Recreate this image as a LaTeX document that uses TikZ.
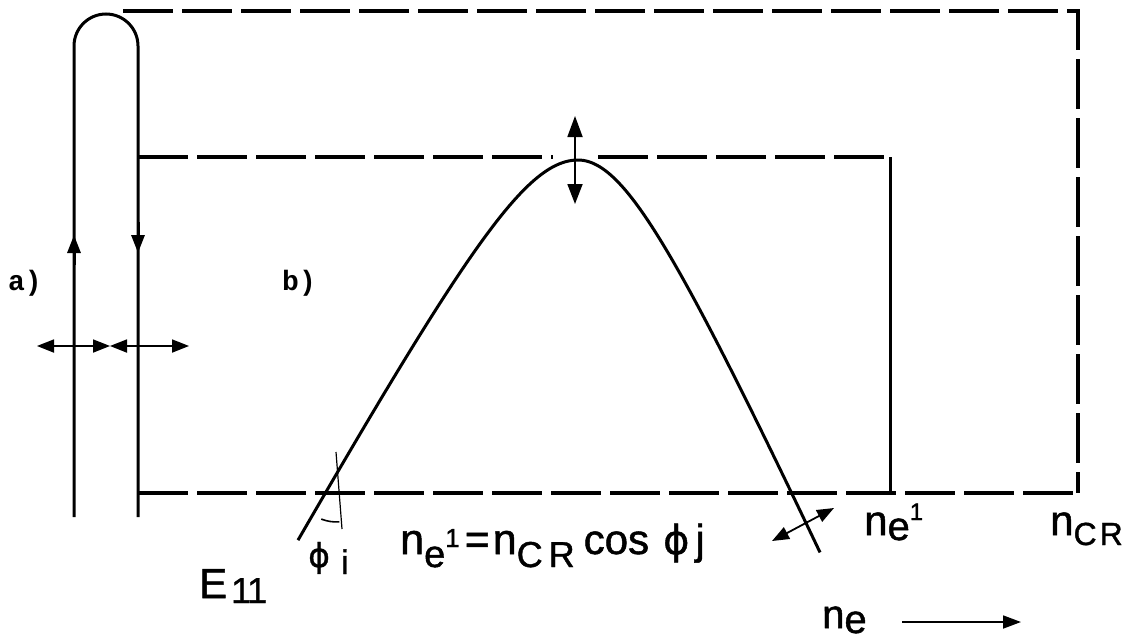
\documentclass[tikz,border=0pt]{standalone}
\usepackage{fontspec}
\setmainfont{Liberation Sans}[FakeBold=1.2]
\setmonofont{Liberation Mono}
\newfontfamily\phifont{DejaVu Sans}[FakeBold=1.0]
\usetikzlibrary{arrows.meta,calc}
\newcommand\FS[1]{\fontsize{#1}{#1}\selectfont}
\tikzset{
  wire/.style={line width=3pt},
  dsh/.style={line width=3.3pt, dash pattern=on 50pt off 9pt},
  bigtip/.style={-{Triangle[length=18pt,width=13pt]}},
  dbl/.style={line width=1.8pt, {Triangle[length=17pt,width=13pt]}-{Triangle[length=17pt,width=13pt]}},
  lbl/.style={inner sep=0pt, anchor=base west},
}
\begin{document}
\begin{tikzpicture}[x=1pt,y=-1pt]
\useasboundingbox (0,0) rectangle (1134,640);
% left loop (waveguide)
\coordinate (L0) at (74,517);
\coordinate (L1) at (74,46);
\coordinate (R0) at (138,517);
\draw[wire] (L0) -- (L1) arc[start angle=180,end angle=360,radius=32] -- (R0);
\coordinate (ua) at (74,265); \coordinate (ub) at (74,235);
\draw[wire,bigtip] (ua) -- (ub);
\coordinate (da) at (138,222); \coordinate (db) at (138,253);
\draw[wire,bigtip] (da) -- (db);
\coordinate (h1) at (37,346); \coordinate (h2) at (110,346); \coordinate (h3) at (189,346);
\draw[dbl] (h1) -- (h2);
\draw[dbl] (h2) -- (h3);
% outer dashed frame
\coordinate (OT) at (123,11);
\coordinate (OC) at (1078,11);
\coordinate (OB) at (1078,493);
\draw[dsh] (OT) -- (OC) -- (OB);
% inner frame
\coordinate (IT) at (138,157);
\coordinate (IG1) at (553,157);
\coordinate (IG2) at (598,157);
\coordinate (IC) at (890,157);
\coordinate (IB) at (890,493);
\coordinate (BL) at (138,493);
\draw[dsh] (IT) -- (IG1);
\draw[dsh] (IG2) -- (IC);
\draw[line width=3pt] (IC) -- (IB);
\draw[dsh] (BL) -- (OB);
% curve
\draw[wire] plot[domain=298:578,samples=90] (\x,{160+144*(sqrt(1+((578-\x)/80)^2)-1)})
  -- plot[domain=578:820,samples=90] (\x,{160+165*(sqrt(1+((\x-578)/75)^2)-1)});
% vertical double arrow at the peak
\coordinate (p1) at (575,116); \coordinate (p2) at (575,204);
\draw[line width=1.8pt,{Triangle[length=21pt,width=15pt]}-{Triangle[length=20pt,width=15pt]}] (p1) -- (p2);
% oblique double arrow at right
\coordinate (q1) at (772,541); \coordinate (q2) at (834,508);
\draw[dbl] (q1) -- (q2);
% angle marker
\coordinate (V) at (337,478);
\coordinate (m1) at (336,452); \coordinate (m2) at (342,529);
\draw[line width=1.2pt] (m1) -- (m2);
\draw[line width=1.6pt] ($(V)+(87:44)$) arc[start angle=87,end angle=111,radius=44];
% ne axis arrow
\coordinate (x1) at (902,622); \coordinate (x2) at (1021,622);
\draw[line width=1.8pt,-{Triangle[length=18pt,width=13pt]}] (x1) -- (x2);
% labels
\node[lbl] (la) at (8,290) {\ttfamily\bfseries\FS{28}a)};
\node[lbl] (lb) at (282,290) {\ttfamily\bfseries\FS{28}b)};
\node[lbl] (form) at (400,554) {\FS{43}n\raisebox{-13pt}{\FS{38}e}\raisebox{7pt}{\FS{26}1}\hspace{5pt}=\hspace{3pt}n\raisebox{-13pt}{\FS{36}C\hspace{6pt}R}\hspace{9pt}\FS{42}cos\hspace{14pt}{\phifont\FS{40}ϕ}\hspace{6pt}j};
\node[lbl] (phi) at (308,567) {\phifont\FS{33}ϕ};
\node[lbl] (sub) at (341,574) {\FS{34}i};
\node[lbl] (ne1) at (864,535) {\FS{42}n\raisebox{-5pt}{\FS{40}e}\raisebox{15pt}{\FS{24}1}};
\node[lbl] (ncr) at (1050,535) {\FS{42}n\raisebox{-10pt}{\FS{32}C\hspace{3pt}R}};
\node[lbl] (ne) at (822,628) {\FS{40}n\raisebox{-5pt}{\FS{40}e}};
\node[lbl] (E) at (199,598) {\FS{42}E\hspace{4pt}\raisebox{-5pt}{\FS{36}1\hspace{-4pt}1}};
\end{tikzpicture}
\end{document}
